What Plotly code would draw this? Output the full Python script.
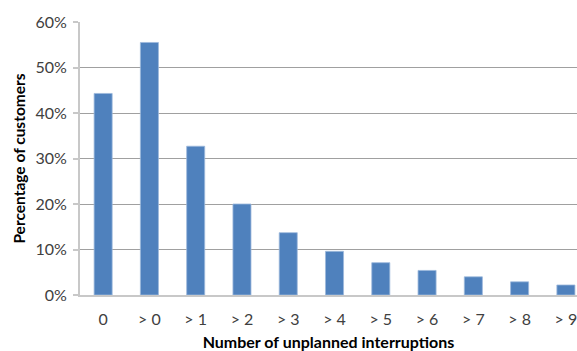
import plotly.graph_objects as go

categories = ["0", "> 0", "> 1", "> 2", "> 3", "> 4", "> 5", "> 6", "> 7", "> 8", "> 9"]
percent_customers = [0.443, 0.555, 0.327, 0.200, 0.137, 0.096, 0.071, 0.054, 0.040, 0.029, 0.022]
y_ticks = [0, 0.1, 0.2, 0.3, 0.4, 0.5, 0.6]
y_tick_labels = ["0%", "10%", "20%", "30%", "40%", "50%", "60%"]

font_family = "Lato, 'Open Sans', sans-serif"

fig = go.Figure(
    go.Bar(
        x=categories,
        y=percent_customers,
        marker=dict(color="#4F81BD", line=dict(color="#9DB9DC", width=0.8)),
    )
)

fig.update_layout(
    width=577,
    height=351,
    margin=dict(l=80, r=0, t=22, b=56),
    paper_bgcolor="white",
    plot_bgcolor="white",
    bargap=0.61,
    showlegend=False,
    font=dict(family=font_family, size=15, color="#404040"),
)

fig.update_xaxes(
    range=[-0.5, 10.24],
    automargin=False,
    showgrid=False,
    showline=True,
    linecolor="#C8C8C8",
    linewidth=2,
    ticks="",
    ticklabelstandoff=9,
    tickfont=dict(size=16, color="#404040"),
    title=dict(
        text="<b>Number of unplanned interruptions</b>",
        font=dict(size=16, color="#000000"),
        standoff=10,
    ),
)

fig.update_yaxes(
    range=[0, 0.6],
    automargin=False,
    tickvals=y_ticks,
    ticktext=y_tick_labels,
    showgrid=True,
    gridcolor="#A0A0A0",
    gridwidth=1,
    showline=True,
    linecolor="#C8C8C8",
    linewidth=2,
    ticks="outside",
    ticklen=5,
    tickcolor="#C8C8C8",
    tickwidth=2,
    zeroline=False,
    ticklabelstandoff=3,
    tickfont=dict(size=16, color="#404040"),
    title=dict(
        text="<b>Percentage of customers</b>",
        font=dict(size=15.5, color="#000000"),
        standoff=6,
    ),
)

fig.write_html(
    "out.html",
    config={"displayModeBar": False},
    post_script="document.body.style.margin='0';document.body.style.padding='0';",
)
